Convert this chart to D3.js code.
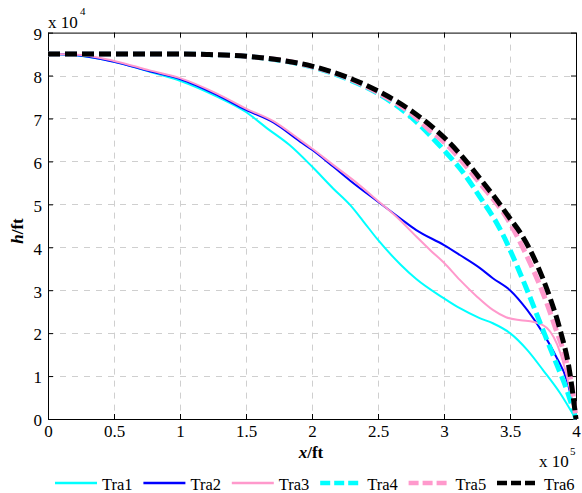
<!DOCTYPE html>
<html>
<head>
<meta charset="utf-8">
<script src="https://cdn.jsdelivr.net/npm/d3@7"></script>
<style>
  body { margin: 0; background: #fff; }
  svg text { font-family: "Liberation Serif", "Times New Roman", "DejaVu Serif", serif; }
</style>
</head>
<body>
<svg id="chart" width="582" height="493"></svg>
<script>
'use strict';

// x in units of 10^5 ft, h in units of 10^4 ft (as the axes show them)
var names = ['Tra1', 'Tra2', 'Tra3', 'Tra4', 'Tra5', 'Tra6'];
var colors = ['#00ffff', '#0000ff', '#ff99cc', '#00ffff', '#ff99cc', '#000000'];
var dashed = [false, false, false, true, true, true];

var tra1_x = [0, 0.2, 0.5, 0.77, 1.0, 1.28, 1.5, 1.66, 1.83, 2.0, 2.16, 2.29, 2.39, 2.5, 2.67, 2.79, 3.0, 3.12, 3.27, 3.37, 3.5, 3.63, 3.75, 3.88, 3.98, 4.0];
var tra1_h = [8.5, 8.47, 8.32, 8.09, 7.88, 7.51, 7.15, 6.77, 6.38, 5.88, 5.37, 4.98, 4.6, 4.17, 3.6, 3.26, 2.81, 2.58, 2.35, 2.23, 2.0, 1.61, 1.14, 0.6, 0.1, 0];

var tra2_x = [0, 0.2, 0.5, 0.77, 1.0, 1.28, 1.5, 1.71, 1.91, 2.0, 2.16, 2.29, 2.5, 2.67, 2.79, 3.0, 3.12, 3.27, 3.37, 3.5, 3.63, 3.75, 3.85, 3.93, 4.0];
var tra2_h = [8.5, 8.48, 8.32, 8.1, 7.92, 7.55, 7.2, 6.9, 6.46, 6.27, 5.88, 5.55, 5.06, 4.67, 4.4, 4.05, 3.82, 3.52, 3.28, 3.0, 2.54, 2.0, 1.45, 0.91, 0];

var tra3_x = [0, 0.2, 0.5, 0.77, 1.0, 1.28, 1.5, 1.71, 1.91, 2.0, 2.16, 2.31, 2.5, 2.64, 2.79, 2.9, 3.0, 3.12, 3.25, 3.37, 3.47, 3.58, 3.68, 3.78, 3.88, 3.95, 4.0];
var tra3_h = [8.5, 8.49, 8.34, 8.12, 7.94, 7.58, 7.23, 6.93, 6.5, 6.3, 5.92, 5.57, 5.08, 4.71, 4.25, 3.92, 3.64, 3.24, 2.85, 2.54, 2.37, 2.3, 2.26, 2.12, 1.55, 0.75, 0];

var tra4_x = [0, 0.5, 1.0, 1.2, 1.5, 1.76, 2.0, 2.26, 2.5, 2.77, 2.89, 3.02, 3.15, 3.27, 3.4, 3.46, 3.5, 3.63, 3.75, 3.85, 3.93, 4.0];
var tra4_h = [8.5, 8.5, 8.5, 8.49, 8.45, 8.35, 8.2, 7.93, 7.58, 6.98, 6.62, 6.19, 5.72, 5.18, 4.56, 4.21, 3.94, 3.0, 2.07, 1.3, 0.68, 0];

var tra5_x = [0, 0.5, 1.0, 1.2, 1.5, 1.76, 2.0, 2.26, 2.5, 2.77, 2.89, 3.0, 3.27, 3.5, 3.63, 3.75, 3.85, 3.93, 3.98, 4.0];
var tra5_h = [8.5, 8.5, 8.5, 8.49, 8.45, 8.36, 8.21, 7.95, 7.6, 7.07, 6.73, 6.45, 5.5, 4.56, 3.78, 2.93, 2.07, 1.3, 0.52, 0];

var tra6_x = [0, 0.5, 1.0, 1.2, 1.5, 1.76, 2.0, 2.26, 2.5, 2.77, 2.92, 3.02, 3.15, 3.27, 3.4, 3.5, 3.58, 3.7, 3.8, 3.88, 3.95, 4.0];
var tra6_h = [8.5, 8.5, 8.5, 8.49, 8.45, 8.36, 8.22, 7.97, 7.64, 7.14, 6.78, 6.5, 6.07, 5.61, 5.1, 4.67, 4.33, 3.63, 2.85, 2.07, 1.14, 0];

var x_ticks = [0, 0.5, 1, 1.5, 2, 2.5, 3, 3.5, 4];
var y_ticks = [0, 1, 2, 3, 4, 5, 6, 7, 8, 9];

var series = [
  d3.zip(tra1_x, tra1_h), d3.zip(tra2_x, tra2_h), d3.zip(tra3_x, tra3_h),
  d3.zip(tra4_x, tra4_h), d3.zip(tra5_x, tra5_h), d3.zip(tra6_x, tra6_h)
];

var serif = '"Liberation Serif", "Times New Roman", "DejaVu Serif", serif';
var plot_left = 48, plot_right = 576, plot_top = 32.6, plot_bottom = 419;

var svg = d3.select('#chart').attr('font-family', serif);
var x = d3.scaleLinear().domain([0, 4]).range([plot_left, plot_right]);
var y = d3.scaleLinear().domain([0, 9]).range([plot_bottom, plot_top]);

// grid
var grid = svg.append('g').attr('stroke', '#cfcfcf').attr('stroke-width', 1).attr('stroke-dasharray', '6,6');
grid.selectAll('.gx').data(x_ticks.slice(1, -1)).enter().append('line')
  .attr('x1', function (d) { return Math.round(x(d)) + 0.5; })
  .attr('x2', function (d) { return Math.round(x(d)) + 0.5; })
  .attr('y1', plot_top).attr('y2', plot_bottom);
grid.selectAll('.gy').data(y_ticks.slice(1, -1)).enter().append('line')
  .attr('y1', function (d) { return Math.round(y(d)) + 0.5; })
  .attr('y2', function (d) { return Math.round(y(d)) + 0.5; })
  .attr('x1', plot_left).attr('x2', plot_right);

// axes (ticks pointing inward, mirrored on top and right)
svg.append('g').attr('transform', 'translate(0,' + plot_bottom + ')')
  .call(d3.axisBottom(x).tickValues(x_ticks).tickSize(-5).tickPadding(6).tickSizeOuter(0).tickFormat(d3.format('')));
var y_axis = svg.append('g').attr('transform', 'translate(' + plot_left + ',0)')
  .call(d3.axisLeft(y).tickValues(y_ticks).tickSize(-5).tickPadding(6).tickSizeOuter(0));
y_axis.selectAll('text').attr('dy', '0.4em');
svg.append('g').attr('transform', 'translate(0,' + plot_top + ')')
  .call(d3.axisTop(x).tickValues(x_ticks).tickSize(-5).tickSizeOuter(0).tickFormat(''));
svg.append('g').attr('transform', 'translate(' + plot_right + ',0)')
  .call(d3.axisRight(y).tickValues(y_ticks).tickSize(-5).tickSizeOuter(0).tickFormat(''));

svg.selectAll('g').attr('font-family', serif);
svg.selectAll('.domain').attr('stroke', '#000');
svg.selectAll('.tick line').attr('stroke', '#000');
svg.selectAll('.tick text').attr('font-size', 17).attr('fill', '#000');

// curves
var line = d3.line()
  .x(function (d) { return x(d[0]); })
  .y(function (d) { return y(d[1]); })
  .curve(d3.curveMonotoneX);

svg.selectAll('.trace').data(series).enter().append('path')
  .attr('class', 'trace')
  .attr('fill', 'none')
  .attr('stroke', function (d, i) { return colors[i]; })
  .attr('stroke-width', function (d, i) { return dashed[i] ? 5 : 2; })
  .attr('stroke-dasharray', function (d, i) { return dashed[i] ? '12,5' : null; })
  .attr('d', line);

// axis labels
svg.append('text').attr('text-anchor', 'middle')
  .attr('transform', 'translate(23,231) rotate(-90)')
  .attr('font-size', 17).attr('font-weight', 'bold')
  .html('<tspan font-style="italic">h</tspan>/ft');
svg.append('text').attr('text-anchor', 'middle')
  .attr('x', 311).attr('y', 458)
  .attr('font-size', 17).attr('font-weight', 'bold')
  .html('<tspan font-style="italic">x</tspan>/ft');

// exponent notes
svg.append('text').attr('x', 48).attr('y', 28).attr('font-size', 17).text('x 10');
svg.append('text').attr('x', 80).attr('y', 15).attr('font-size', 11).text('4');
svg.append('text').attr('x', 539).attr('y', 467).attr('font-size', 17).text('x 10');
svg.append('text').attr('x', 570).attr('y', 455).attr('font-size', 11).text('5');

// legend
var legend_x = d3.scaleLinear().domain([0, names.length - 1]).range([55, 497]);
var legend = svg.selectAll('.legend').data(names).enter().append('g')
  .attr('transform', function (d, i) { return 'translate(' + legend_x(i) + ',483)'; });
legend.append('line')
  .attr('x1', 0).attr('x2', 42).attr('y1', 0).attr('y2', 0)
  .attr('stroke', function (d, i) { return colors[i]; })
  .attr('stroke-width', function (d, i) { return dashed[i] ? 4.5 : 2.5; })
  .attr('stroke-dasharray', function (d, i) { return dashed[i] ? '10,4' : null; });
legend.append('text')
  .attr('x', 47).attr('y', 7)
  .attr('font-size', 16.5)
  .text(function (d) { return d; });
</script>
</body>
</html>
